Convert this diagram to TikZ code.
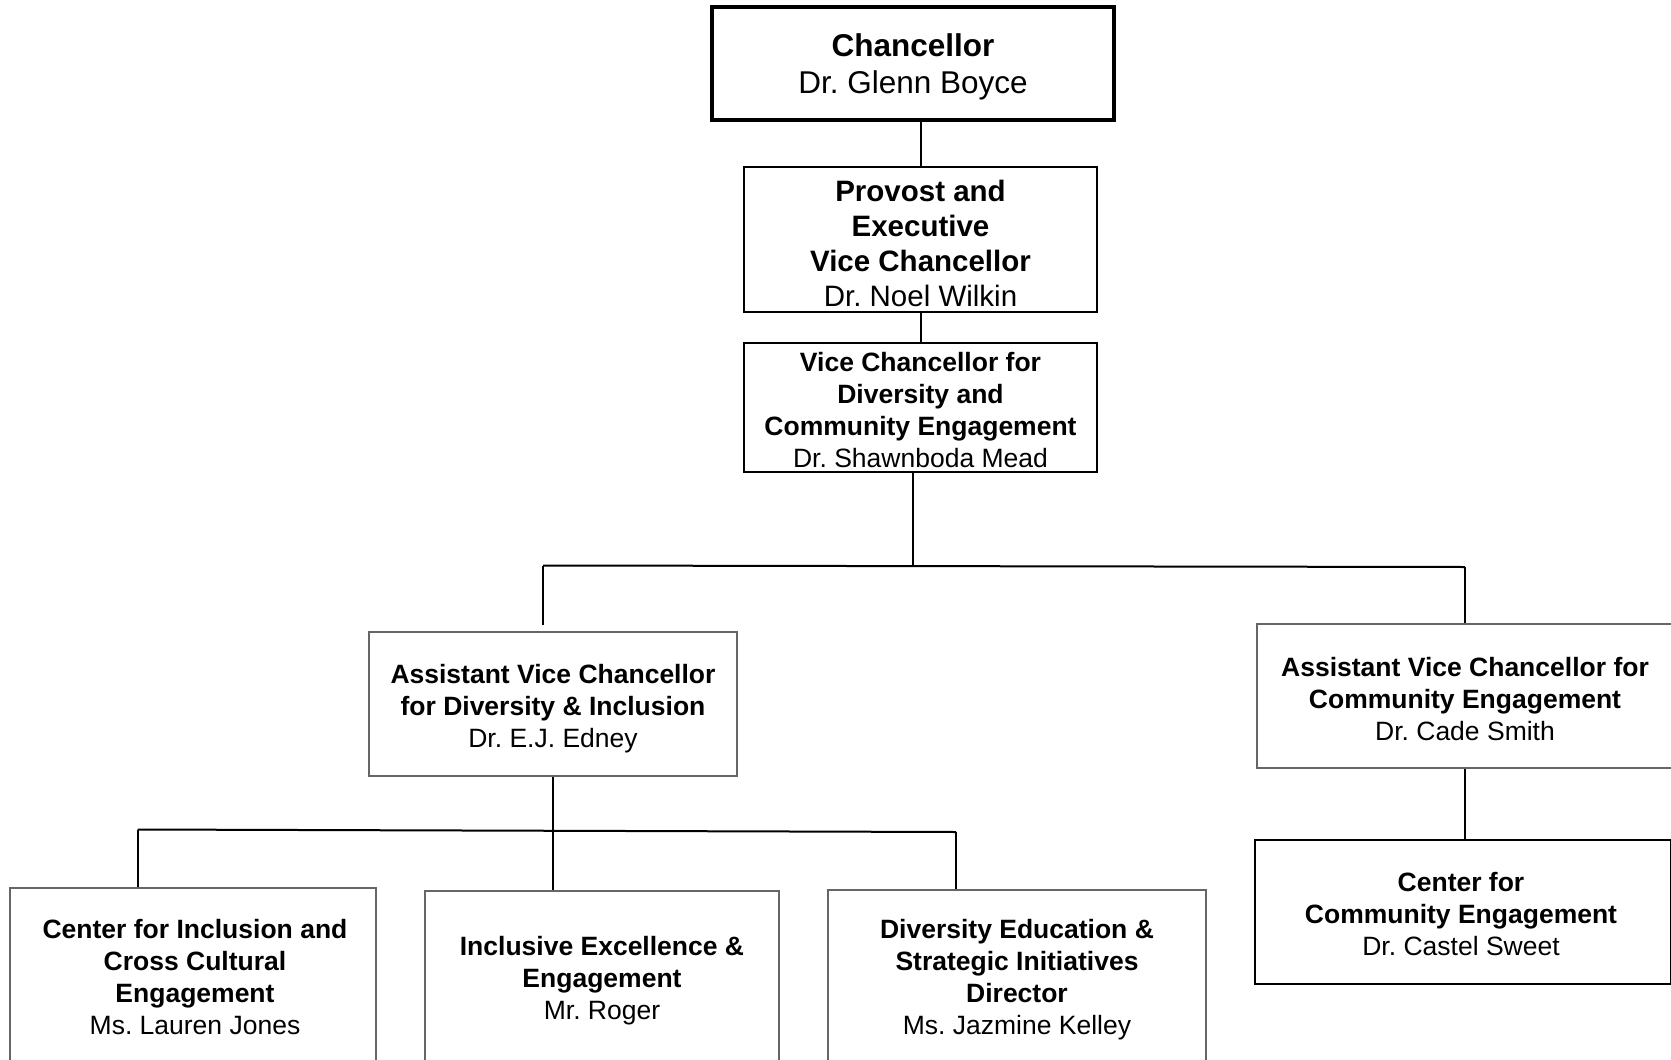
\documentclass[tikz,border=0pt]{standalone}
\usepackage{fontspec}
\setmainfont{Liberation Sans}
\usetikzlibrary{calc}
\tikzset{
  box/.style={draw, inner sep=0pt},
  blackbox/.style={box, draw=black, line width=2pt},
  graybox/.style={box, draw=black!60, line width=1.5pt},
  txt/.style={inner sep=0pt, align=center, font=\fontsize{26.5}{32}\selectfont},
  link/.style={draw=black, line width=2pt},
}
\begin{document}
\frenchspacing
\begin{tikzpicture}[x=1pt,y=-1pt]
\useasboundingbox (0,0) rectangle (1671,1060);
\clip (0,0) rectangle (1671,1060);
\fill[white] (0,0) rectangle (1671,1060);

\node[blackbox, line width=4.5pt, minimum width=402pt, minimum height=113pt] (ch) at (913,63.5) {};
\node[txt, font=\fontsize{31.5}{37}\selectfont] (chT) at (913,67)
  {\textbf{Chancellor}\\Dr. Glenn Boyce};
\node[blackbox, minimum width=353pt, minimum height=145pt] (pv) at (920.5,239.5) {};
\node[txt, font=\fontsize{29.5}{35}\selectfont] (pvT) at (920.5,243.5)
  {\textbf{Provost and}\\\textbf{Executive}\\\textbf{Vice Chancellor}\\Dr. Noel Wilkin};
\node[blackbox, minimum width=353pt, minimum height=129pt] (vc) at (920.5,407.5) {};
\node[txt] (vcT) at (920.5,410)
  {\textbf{Vice Chancellor for}\\\textbf{Diversity and}\\\textbf{Community Engagement}\\Dr. Shawnboda Mead};

\node[graybox, minimum width=368pt, minimum height=144pt] (di) at (553,704) {};
\node[txt] (diT) at (553,708.5)
  {\textbf{Assistant Vice Chancellor}\\\textbf{for Diversity \& Inclusion}\\Dr. E.J. Edney};
\node[graybox, minimum width=416pt, minimum height=144pt] (ce) at (1465,696) {};
\node[txt] (ceT) at (1465,699)
  {\textbf{Assistant Vice Chancellor for}\\\textbf{Community Engagement}\\Dr. Cade Smith};
\node[blackbox, line width=2.5pt, minimum width=416pt, minimum height=144pt] (cce) at (1463,912) {};
\node[txt] (cceT) at (1461,914)
  {\textbf{Center for}\\\textbf{Community Engagement}\\Dr. Castel Sweet};

\node[graybox, minimum width=366pt, minimum height=176pt] (cic) at (193,976) {};
\node[txt] (cicT) at (195,977)
  {\textbf{Center for Inclusion and}\\\textbf{Cross Cultural}\\\textbf{Engagement}\\Ms. Lauren Jones};
\node[graybox, minimum width=354pt, minimum height=172pt] (iee) at (602,977) {};
\node[txt] (ieeT) at (602,980.5)
  {\textbf{Inclusive Excellence \&}\\\textbf{Engagement}\\Mr. Roger};
\node[graybox, minimum width=378pt, minimum height=172pt] (des) at (1017,976) {};
\node[txt] (desT) at (1017,979.5)
  {\textbf{Diversity Education \&}\\\textbf{Strategic Initiatives}\\\textbf{Director}\\Ms. Jazmine Kelley};

% junction coordinates
\coordinate (j1) at (913,566);
\coordinate (hl) at (543,565.5);
\coordinate (hr) at (1465,567);
\coordinate (dl) at (543,625);
\coordinate (ll) at (137.5,829.5);
\coordinate (lr) at (956,832);

\draw[link] (pv.north) -- (pv.north |- ch.south);
\draw[link] (vc.north) -- (vc.north |- pv.south);
\draw[link] (vc.south -| j1) -- (j1);
\draw[link] (hl) -- (hr);
\draw[link] (hl) -- (dl);
\draw[link] (hr) -- (ce.north);
\draw[link] (ce.south) -- (ce.south |- cce.north);
\draw[link] (di.south) -- (di.south |- iee.north);
\draw[link] (ll) -- (lr);
\draw[link] (ll) -- (ll |- cic.north);
\draw[link] (lr) -- (lr |- des.north);
\end{tikzpicture}
\end{document}
